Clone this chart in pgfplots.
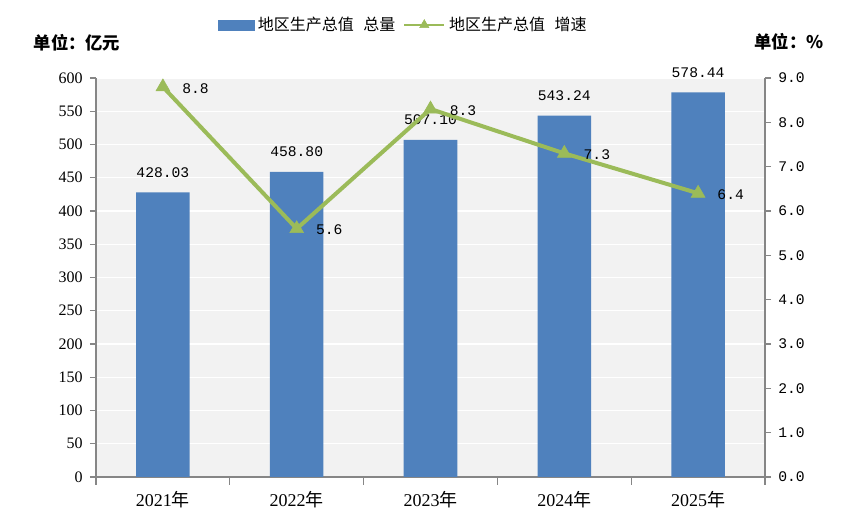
\documentclass[border=0pt]{standalone}
\usepackage{fontspec}
\setmainfont{Liberation Serif}
\newfontfamily\cjk{Noto Sans CJK SC}
\newfontfamily\mono{Liberation Mono}
\usepackage{pgfplots}
\pgfplotsset{compat=1.18}
\definecolor{barblue}{RGB}{79,129,189}
\definecolor{lgreen}{RGB}{155,187,89}
\definecolor{bg}{RGB}{242,242,242}
\definecolor{axgray}{RGB}{134,134,134}
\pgfplotsset{
  mylinelegend/.style={legend image code/.code={\draw[mark repeat=2,mark phase=2,##1, line width=2.2pt, mark size=4pt] plot coordinates {(0pt,0pt) (15pt,0pt) (30pt,0pt)};}},
  mybarlegend/.style={legend image code/.code={\fill[barblue] (0pt,-3.75pt) rectangle (27pt,3.75pt);}}
}
\begin{document}
\begin{tikzpicture}[x=1pt,y=1pt]
\path[use as bounding box] (0,0) rectangle (648.75,397.5);
\begin{axis}[
  at={(72pt,39.75pt)}, anchor=south west,
  scale only axis, width=501.75pt, height=299.25pt,
  xmin=-0.5, xmax=4.5, ymin=0, ymax=600,
  ytick={0,50,...,600},
  xtick={0,1,2,3,4},
  xticklabels={2021{\cjk 年},2022{\cjk 年},2023{\cjk 年},2024{\cjk 年},2025{\cjk 年}},
  /pgf/number format/assume math mode=true,
  axis background/.style={fill=bg},
  ymajorgrids, grid style={white, line width=0.8pt},
  axis x line*=bottom, axis y line*=left,
  axis line style={draw=axgray, line width=0.8pt},
  tick align=outside,
  major tick length=4.5pt,
  ytick style={draw=axgray, line width=0.8pt},
  xtick style={draw=none},
  extra x ticks={-0.5,0.5,1.5,2.5,3.5,4.5},
  extra x tick labels={},
  extra x tick style={xtick style={draw=axgray, line width=0.8pt}, major tick length=6pt, grid=none},
  yticklabel style={font=\fontsize{12}{14}\selectfont, xshift=-2pt},
  xticklabel style={font=\fontsize{13.5}{15}\selectfont, yshift=-3pt},
]
\addplot[ybar, bar width=0.4, fill=barblue, draw=none,
  nodes near coords, point meta=explicit symbolic,
  nodes near coords style={font=\mono\fontsize{11}{13}\selectfont, anchor=center, yshift=15pt, text=black}]
  coordinates {(0,428.03)[428.03] (1,458.80)[458.80] (2,507.10)[507.10] (3,543.24)[543.24] (4,578.44)[578.44]};
\end{axis}
\begin{axis}[
  at={(72pt,39.75pt)}, anchor=south west,
  scale only axis, width=501.75pt, height=299.25pt,
  xmin=-0.5, xmax=4.5, ymin=0, ymax=9,
  axis x line=none, axis y line*=right,
  axis line style={draw=axgray, line width=0.8pt},
  tick align=outside, major tick length=4.5pt,
  ytick={0,1,2,3,4,5,6,7,8,9},
  yticklabels={0.0,1.0,2.0,3.0,4.0,5.0,6.0,7.0,8.0,9.0},
  ytick style={draw=axgray, line width=0.8pt},
  yticklabel style={font=\mono\fontsize{11}{13}\selectfont, xshift=2pt},
  legend style={at={(0.182,1)}, anchor=west, yshift=39.75pt, draw=none, fill=none,
    inner sep=0pt, font=\cjk\fontsize{12}{14}\selectfont,
    nodes={inner sep=2.5pt},
    /tikz/every even column/.append style={column sep=3pt}},
  legend columns=2,
  legend cell align=left,
]
\addlegendimage{mybarlegend}
\addlegendentry{地区生产总值\hspace{0.6em}总量}
\addplot[color=lgreen, line width=3pt, mark=triangle*, mark size=6pt,
  mark options={solid, line width=0.4pt},
  nodes near coords, point meta=explicit symbolic,
  nodes near coords style={font=\mono\fontsize{11}{13}\selectfont, anchor=west, xshift=11pt, yshift=-1pt, text=black},
  mylinelegend]
  coordinates {(0,8.8)[8.8] (1,5.6)[5.6] (2,8.3)[8.3] (3,7.3)[7.3] (4,6.4)[6.4]};
\addlegendentry{地区生产总值\hspace{0.6em}增速}
\end{axis}
\node[font=\cjk\bfseries\fontsize{13}{15}\selectfont] at (57.75,365.25) {单位：亿元};
\node[font=\cjk\bfseries\fontsize{13}{15}\selectfont] at (591.75,366) {单位：\%};
\end{tikzpicture}
\end{document}
